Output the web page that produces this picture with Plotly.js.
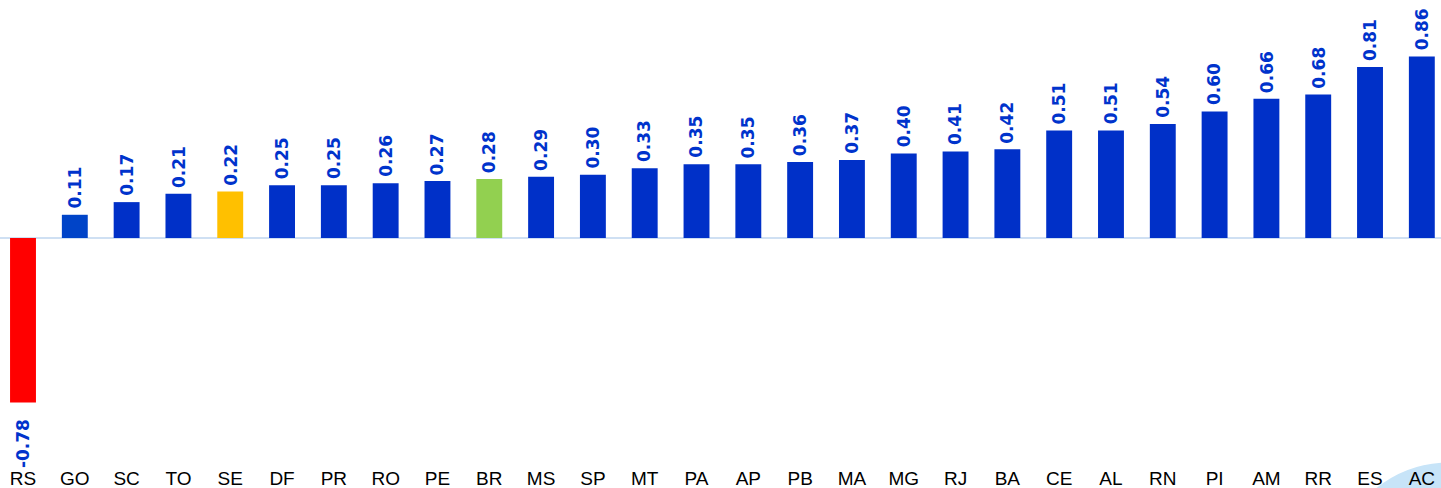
<!DOCTYPE html>
<html><head><meta charset="utf-8">
<script src="https://cdn.plot.ly/plotly-3.0.1.min.js"></script>
<style>html,body{margin:0;padding:0;background:#fff;}#chart{width:1441px;height:488px;}</style>
</head><body><div id="chart"></div>
<script>
const states = ["RS","GO","SC","TO","SE","DF","PR","RO","PE","BR","MS","SP","MT","PA","AP","PB","MA","MG","RJ","BA","CE","AL","RN","PI","AM","RR","ES","AC"];
const values = [-0.78,0.11,0.17,0.21,0.22,0.25,0.25,0.26,0.27,0.28,0.29,0.30,0.33,0.35,0.35,0.36,0.37,0.40,0.41,0.42,0.51,0.51,0.54,0.60,0.66,0.68,0.81,0.86];
const labels = ["-0.78","0.11","0.17","0.21","0.22","0.25","0.25","0.26","0.27","0.28","0.29","0.30","0.33","0.35","0.35","0.36","0.37","0.40","0.41","0.42","0.51","0.51","0.54","0.60","0.66","0.68","0.81","0.86"];
const highlight = {"RS":"#FF0000","GO":"#0044C8","SE":"#FFC000","BR":"#92D050"};
const colors = states.map(s => highlight[s] || "#0030C8");

const trace = {
  type: "bar",
  x: states,
  y: values,
  marker: {color: colors, line: {width: 0}},
  width: 0.5,
  hoverinfo: "skip"
};

const annotations = states.map((s, i) => ({
  x: s, y: values[i], xref: "x", yref: "y",
  text: labels[i],
  showarrow: false,
  textangle: -90,
  xanchor: "center",
  yanchor: values[i] >= 0 ? "bottom" : "top",
  yshift: values[i] >= 0 ? 4 : -15,
  font: {family: "DejaVu Sans, Verdana, sans-serif", size: 17, color: "#0033CC", weight: "bold"}
}));

const layout = {
  width: 1441, height: 488,
  margin: {l: 0, r: 0, t: 0, b: 23},
  paper_bgcolor: "#ffffff", plot_bgcolor: "#ffffff",
  showlegend: false,
  xaxis: {
    type: "category",
    range: [-0.444, 27.37],
    showgrid: false, zeroline: false, showline: false,
    ticks: "", ticklen: 0,
    tickfont: {family: "Liberation Sans, Arial, sans-serif", size: 19, color: "#000000"},
    fixedrange: true
  },
  yaxis: {
    range: [-1.076, 1.128],
    showgrid: false, showticklabels: false, showline: false,
    zeroline: true, zerolinecolor: "#CFE0F3", zerolinewidth: 2,
    fixedrange: true
  },
  annotations: annotations,
  shapes: [{
    type: "path", xref: "paper", yref: "paper",
    path: "M 0.955 -0.05 Q 0.975 0.0 1.0 0.005 L 1.0 -0.05 Z",
    fillcolor: "#C7E4F8", line: {width: 0}, layer: "below"
  }]
};

Plotly.newPlot("chart", [trace], layout, {displayModeBar: false, staticPlot: true});
</script>
</body></html>
